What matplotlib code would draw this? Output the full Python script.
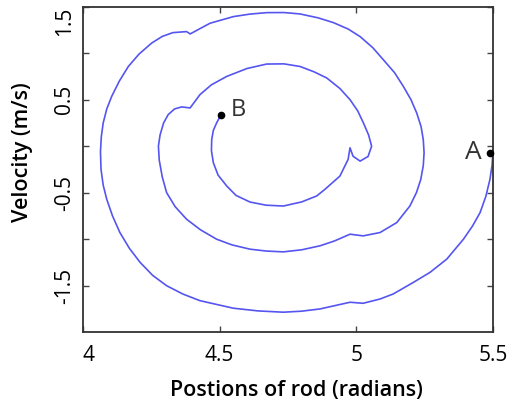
import matplotlib
matplotlib.use("Agg")
import matplotlib.pyplot as plt

# trajectory, from A (start) spiralling in to B (end)
pos = [5.500, 5.497, 5.489, 5.474, 5.453, 5.425, 5.392, 5.331, 5.270, 5.209,
       5.135, 5.087, 5.025, 4.977, 4.867, 4.800, 4.733, 4.640, 4.550, 4.428,
       4.365, 4.306, 4.255, 4.209, 4.170, 4.135, 4.108, 4.087, 4.074, 4.066,
       4.064, 4.067, 4.074, 4.087, 4.105, 4.133, 4.166, 4.205, 4.251, 4.290,
       4.329, 4.379, 4.392, 4.465, 4.550, 4.610, 4.672, 4.735, 4.794, 4.860,
       4.916, 4.970, 5.014, 5.060, 5.099, 5.140, 5.172, 5.200, 5.221, 5.237,
       5.245, 5.248, 5.245, 5.236, 5.220, 5.196, 5.148, 5.087, 5.025, 4.977,
       4.920, 4.867, 4.800, 4.733, 4.670, 4.611, 4.545, 4.489, 4.430, 4.379,
       4.337, 4.306, 4.290, 4.279, 4.276, 4.282, 4.295, 4.312, 4.335, 4.361,
       4.392, 4.428, 4.470, 4.526, 4.600, 4.672, 4.735, 4.794, 4.845, 4.892,
       4.940, 4.977, 5.005, 5.026, 5.045, 5.056, 5.043, 5.014, 4.988, 4.977,
       4.970, 4.940, 4.885, 4.855, 4.800, 4.733, 4.670, 4.611, 4.560, 4.526,
       4.494, 4.477, 4.470, 4.471, 4.477, 4.489, 4.505]
vel = [-0.036, -0.200, -0.357, -0.540, -0.714, -0.860, -1.001, -1.215, -1.357, -1.465,
       -1.590, -1.644, -1.690, -1.679, -1.751, -1.775, -1.786, -1.772, -1.743, -1.662,
       -1.590, -1.501, -1.390, -1.250, -1.100, -0.929, -0.750, -0.572, -0.420, -0.250,
       -0.060, 0.100, 0.250, 0.400, 0.535, 0.700, 0.857, 0.990, 1.108, 1.180,
       1.221, 1.232, 1.207, 1.322, 1.393, 1.420, 1.436, 1.437, 1.422, 1.380,
       1.329, 1.260, 1.178, 1.060, 0.929, 0.790, 0.643, 0.500, 0.357, 0.210,
       0.071, -0.071, -0.210, -0.357, -0.500, -0.644, -0.822, -0.929, -0.965, -0.947,
       -1.020, -1.072, -1.115, -1.137, -1.128, -1.108, -1.062, -1.001, -0.900, -0.786,
       -0.650, -0.500, -0.330, -0.150, 0.000, 0.120, 0.250, 0.340, 0.400, 0.422,
       0.411, 0.554, 0.660, 0.750, 0.835, 0.883, 0.885, 0.857, 0.800, 0.733,
       0.620, 0.500, 0.380, 0.250, 0.120, -0.001, -0.111, -0.161, -0.108, -0.018,
       -0.143, -0.322, -0.465, -0.536, -0.600, -0.644, -0.635, -0.601, -0.530, -0.429,
       -0.310, -0.178, -0.050, 0.071, 0.170, 0.250, 0.339]

point_names = ["A", "B"]
point_x = [5.49, 4.505]
point_y = [-0.07, 0.339]
label_x = [5.427, 4.567]
label_y = [-0.07, 0.393]
label_size = [19, 17]

xticks = [4, 4.5, 5, 5.5]
xticklabels = ["4", "4.5", "5", "5.5"]
yticks = [-1.5, -1.0, -0.5, 0.0, 0.5, 1.0, 1.5]
yticklabels = ["-1.5", "", "-0.5", "", "0.5", "", "1.5"]

plt.rcParams['font.family'] = ['Open Sans', 'DejaVu Sans']

fig = plt.figure(figsize=(5.17, 4.05), dpi=100)
ax = fig.add_axes([0.1605, 0.180, 0.793, 0.8035])

ax.plot(pos, vel, color='#5555f0', lw=1.2, solid_joinstyle='round')
ax.plot(point_x, point_y, 'o', color='black', ms=4.5, clip_on=False, zorder=5)
for name, lx, ly, fs in zip(point_names, label_x, label_y, label_size):
    ax.text(lx, ly, name, fontsize=fs, color='#333333', ha='center', va='center')

ax.set_xlim(4, 5.5)
ax.set_ylim(-2, 1.5)
ax.set_xticks(xticks)
ax.set_xticklabels(xticklabels, fontsize=15)
ax.set_yticks(yticks)
ax.set_yticklabels(yticklabels, fontsize=15, rotation=90, va='center')
# the end labels sit inside the frame in the original
ax.get_xticklabels()[0].set_ha('left')
ax.get_yticklabels()[-1].set_va('top')

ax.tick_params(direction='in', top=True, right=True, length=4, width=1, colors='#444444')
ax.tick_params(axis='x', pad=9, labelcolor='black')
ax.tick_params(axis='y', pad=6, labelcolor='black')
for s in ax.spines.values():
    s.set_linewidth(1.3)
    s.set_color('#333333')

ax.set_xlabel("Postions of rod (radians)", fontsize=15.5, fontweight='semibold')
ax.set_ylabel("Velocity (m/s)", fontsize=15.5, fontweight='semibold')
ax.xaxis.set_label_coords(0.52, -0.148)
ax.yaxis.set_label_coords(-0.122, 0.553)

fig.savefig("out.png", dpi=100)
